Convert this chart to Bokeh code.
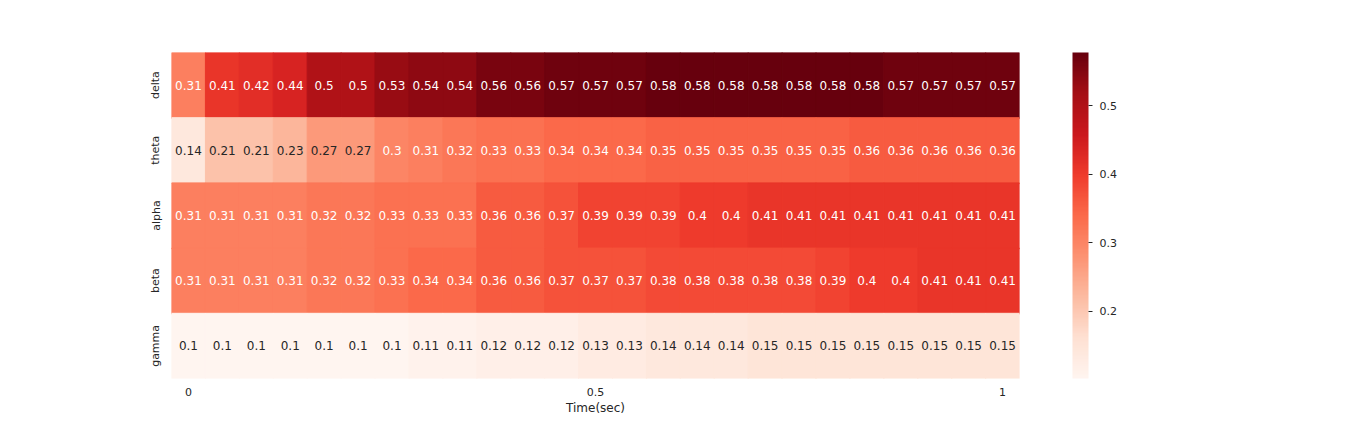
import numpy as np
from bokeh.plotting import figure
from bokeh.models import (ColumnDataSource, LinearColorMapper, ColorBar, FixedTicker,
                          FactorRange, Range1d)
from bokeh.transform import transform
from bokeh.core.properties import value
from bokeh.palettes import Reds256
from bokeh.embed import file_html
from bokeh.resources import INLINE

bands = ["delta", "theta", "alpha", "beta", "gamma"]
delta = [0.31, 0.41, 0.42, 0.44, 0.5, 0.5, 0.53, 0.54, 0.54, 0.56, 0.56, 0.57, 0.57,
         0.57, 0.58, 0.58, 0.58, 0.58, 0.58, 0.58, 0.58, 0.57, 0.57, 0.57, 0.57]
theta = [0.14, 0.21, 0.21, 0.23, 0.27, 0.27, 0.3, 0.31, 0.32, 0.33, 0.33, 0.34, 0.34,
         0.34, 0.35, 0.35, 0.35, 0.35, 0.35, 0.35, 0.36, 0.36, 0.36, 0.36, 0.36]
alpha = [0.31, 0.31, 0.31, 0.31, 0.32, 0.32, 0.33, 0.33, 0.33, 0.36, 0.36, 0.37, 0.39,
         0.39, 0.39, 0.4, 0.4, 0.41, 0.41, 0.41, 0.41, 0.41, 0.41, 0.41, 0.41]
beta = [0.31, 0.31, 0.31, 0.31, 0.32, 0.32, 0.33, 0.34, 0.34, 0.36, 0.36, 0.37, 0.37,
        0.37, 0.38, 0.38, 0.38, 0.38, 0.38, 0.39, 0.4, 0.4, 0.41, 0.41, 0.41]
gamma = [0.1, 0.1, 0.1, 0.1, 0.1, 0.1, 0.1, 0.11, 0.11, 0.12, 0.12, 0.12, 0.13,
         0.13, 0.14, 0.14, 0.14, 0.15, 0.15, 0.15, 0.15, 0.15, 0.15, 0.15, 0.15]
series = {"delta": delta, "theta": theta, "alpha": alpha, "beta": beta, "gamma": gamma}
time_tick_labels = ["0", "0.5", "1"]
time_tick_cols = [0, 12, 24]
vmin, vmax = 0.102, 0.578

FONT = "DejaVu Sans"
DARK = "#262626"

xs, ys, vs, labels, tcolors = [], [], [], [], []
for b in bands:
    for i, v in enumerate(series[b]):
        xs.append(i + 0.5)
        ys.append(b)
        vs.append(v)
        labels.append(f"{v:g}")
        tcolors.append("white" if v > 0.285 else DARK)
src = ColumnDataSource(dict(x=xs, y=ys, v=vs, label=labels, tc=tcolors))

mapper = LinearColorMapper(palette=list(Reds256[::-1]), low=vmin, high=vmax)

p = figure(x_range=Range1d(0, len(delta)), y_range=FactorRange(factors=bands[::-1]),
           frame_width=848, frame_height=326, min_border_left=171, min_border_top=52,
           min_border_bottom=46, min_border_right=333,
           output_backend="svg", toolbar_location=None)
p.outline_line_color = None
p.grid.visible = False
p.background_fill_color = "white"
p.border_fill_color = "white"

p.rect(x="x", y="y", width=1, height=1, source=src, dilate=True,
       fill_color=transform("v", mapper), line_color=transform("v", mapper),
       line_width=1)
p.text(x="x", y="y", text="label", source=src, text_color="tc",
       text_align="center", text_baseline="middle",
       text_font=value(FONT), text_font_size="12px")

xa = p.xaxis[0]
xa.ticker = FixedTicker(ticks=[c + 0.5 for c in time_tick_cols])
xa.major_label_overrides = {c + 0.5: t for c, t in zip(time_tick_cols, time_tick_labels)}
xa.axis_label = "Time(sec)"
ya = p.yaxis[0]
ya.major_label_orientation = "vertical"
for ax in (xa, ya):
    ax.axis_line_color = None
    ax.major_tick_line_color = None
    ax.minor_tick_line_color = None
    ax.major_label_text_font = FONT
    ax.major_label_text_font_size = "11px"
    ax.major_label_text_color = DARK
    ax.axis_label_text_font = FONT
    ax.axis_label_text_font_size = "12px"
    ax.axis_label_text_font_style = "normal"
    ax.axis_label_text_color = DARK
xa.major_label_standoff = 3
xa.axis_label_standoff = 2
ya.major_label_standoff = 3

cb = ColorBar(color_mapper=mapper, location=(901, 0), width=16, height=326,
              padding=0, margin=0, ticker=FixedTicker(ticks=[0.2, 0.3, 0.4, 0.5]),
              major_tick_in=0, major_tick_out=4, major_tick_line_color=DARK,
              minor_tick_line_color=None, bar_line_color=None, border_line_color=None,
              background_fill_color=None, label_standoff=7,
              major_label_text_font=FONT, major_label_text_font_size="11px",
              major_label_text_color=DARK)
p.add_layout(cb, "center")

open("out.html", "w").write(file_html(p, INLINE))
